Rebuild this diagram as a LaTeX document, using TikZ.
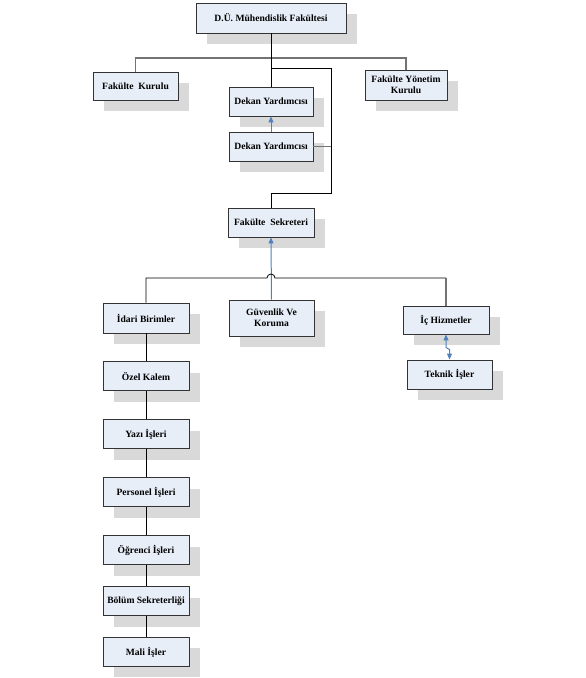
\documentclass[tikz,border=0pt]{standalone}
\usepackage{fontspec}
\setmainfont{Liberation Serif}
\usetikzlibrary{arrows.meta,positioning,shadows,calc}
\definecolor{boxfill}{RGB}{232,238,248}
\definecolor{boxshadow}{RGB}{217,217,217}
\definecolor{linkblue}{RGB}{79,129,189}

\begin{document}
\begin{tikzpicture}[x=1pt, y=-1pt, node distance=28pt,
  birim/.style={rectangle, draw=black!80, line width=0.9pt, fill=boxfill,
                minimum width=86pt, minimum height=29pt, align=center,
                inner sep=2pt,
                font=\bfseries\fontsize{9.6}{11}\selectfont,
                drop shadow={shadow xshift=11pt, shadow yshift=-11pt,
                             fill=boxshadow, opacity=1}},
  bline/.style={black, line width=0.8pt},
  gline/.style={black!55, line width=1.4pt},
  barr/.style={linkblue, line width=1pt, -{Triangle[length=6pt,width=5pt]}}
]
  \useasboundingbox (0,0) rectangle (586,678);

  % ust yonetim
  \node[birim, minimum width=150pt, minimum height=30pt] (dmf) at (271,18)
    {D.Ü. Mühendislik Fakültesi};
  \node[birim, minimum width=85pt, minimum height=28pt] (kurul) at (135.5,86)
    {Fakülte\ \ Kurulu};
  \node[birim, minimum width=82pt, minimum height=30pt] (yonetim) at (406,85)
    {Fakülte Yönetim\\Kurulu};
  \node[birim, minimum width=84pt] (dekan1) at (271,101.5) {Dekan Yardımcısı};
  \node[birim, minimum width=84pt] (dekan2) at (271,146.5) {Dekan Yardımcısı};
  \node[birim] (sekreter) at (271,222.5) {Fakülte\ \ Sekreteri};

  % birimler
  \node[birim, minimum height=30pt] (idari) at (146,318) {İdari Birimler};
  \node[birim, minimum width=85pt, minimum height=36pt] (guvenlik) at (271.5,318)
    {Güvenlik Ve\\Koruma};
  \node[birim, minimum height=28pt] (ic) at (446,320) {İç Hizmetler};
  \node[birim, minimum width=85pt] (teknik) at (449.5,374.5) {Teknik İşler};

  \node[birim, below=of idari] (ozel) {Özel Kalem};
  \node[birim, below=of ozel] (yazi) {Yazı İşleri};
  \node[birim, below=of yazi] (personel) {Personel İşleri};
  \node[birim, below=of personel] (ogrenci) {Öğrenci İşleri};
  \node[birim, below=21pt of ogrenci] (bolum) {Bölüm Sekreterliği};
  \node[birim, below=21pt of bolum] (mali) {Mali İşler};

  % baglantilar
  \coordinate (bus1) at (271,58);
  \coordinate (j1) at (271,68);
  \coordinate (j2) at (331,193);
  \coordinate (bus2) at (271,278);

  \draw[gline] (kurul.north) |- (bus1) -| (yonetim.north);
  \draw[bline] (dmf.south) -- (dekan1.north);
  \draw[bline] (j1) -| (j2) -| (sekreter.north);
  \draw[gline] (dekan2.east) -- (dekan2.east -| j2);
  \draw[barr] (dekan2.north) -- (dekan1.south);
  \draw[barr] (guvenlik.north) -- (sekreter.south);

  \draw[bline] (idari.north) |- ([xshift=-4pt]bus2)
    arc[start angle=180, end angle=0, radius=4pt] -- (bus2 -| ic.north);
  \draw[gline] (bus2 -| ic.north) -- (ic.north);
  \draw[barr, {Triangle[length=6pt,width=5pt]}-{Triangle[length=6pt,width=5pt]}]
    (ic.south) -- ++(0,13) -- ($(teknik.north)+(0,-10)$) -- (teknik.north);

  \foreach \from/\to in {idari/ozel, ozel/yazi, yazi/personel,
                         personel/ogrenci, ogrenci/bolum, bolum/mali}
    \draw[bline] (\from) -- (\to);
\end{tikzpicture}
\end{document}
